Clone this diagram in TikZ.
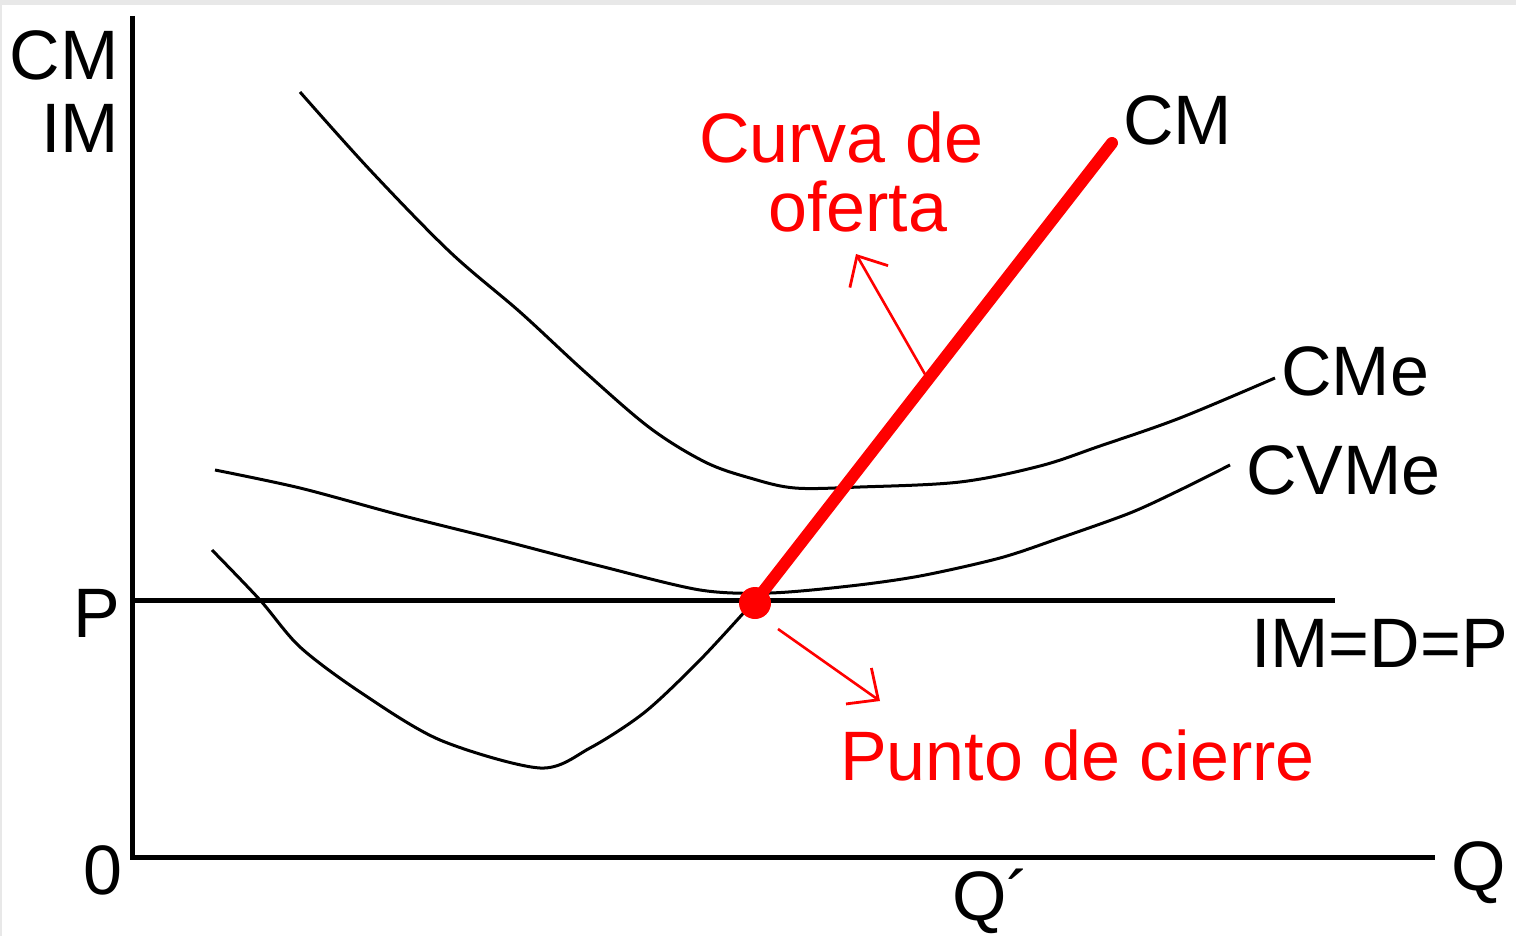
\documentclass[tikz,border=0pt]{standalone}
\usepackage{fontspec}
\setmainfont{Liberation Sans}
\usetikzlibrary{arrows.meta}
\definecolor{pred}{RGB}{255,0,0}
\definecolor{edge}{RGB}{232,232,232}
\tikzset{
  lbl/.style={inner sep=0pt,font=\fontsize{70}{70}\selectfont},
  axisline/.style={line width=5pt,black},
  curve/.style={line width=3pt,black,line join=round},
  supply/.style={line width=12pt,pred,line cap=round},
  redarrow/.style={line width=2.6pt,pred,-{Straight Barb[length=24pt,width=44pt,line width=2.8pt]}},
}
\begin{document}
\begin{tikzpicture}[x=1pt,y=-1pt]
\useasboundingbox (0,0) rectangle (1516,936);
\fill[white] (0,0) rectangle (1516,936);
\fill[edge] (0,0) rectangle (1516,5);
\fill[edge] (0,0) rectangle (2,936);
% axes
\coordinate (O) at (132,857);
\coordinate (Ytop) at (132,16);
\coordinate (Xend) at (1435,857);
\coordinate (Pl) at (132,600);
\coordinate (Pr) at (1335,600);
\draw[axisline] (Ytop) -- (O) -- (Xend);
\draw[axisline] (Pl) -- (Pr);
% labels
\node[lbl,anchor=base east] (lcm) at (119,80) {CM};
\node[lbl,anchor=base east] (lim) at (119,153) {IM};
\node[lbl,anchor=base east] (lp) at (120,637) {P};
\node[lbl,anchor=base east] (l0) at (123,894) {0};
\node[lbl,anchor=base west] (lq) at (1451,890) {Q};
\node[lbl,anchor=base west] (lqp) at (952,920) {Q´};
\node[lbl,anchor=base west] (limd) at (1251,667) {IM=D=P};
\node[lbl,anchor=base west] (lcm2) at (1123,145) {CM};
\node[lbl,anchor=base west] (lcme) at (1281,395) {CMe};
\node[lbl,anchor=base west] (lcvme) at (1246,494) {CVMe};
\node[lbl,anchor=base west,text=pred] (lcurva) at (699,163) {Curva de};
\node[lbl,anchor=base west,text=pred] (loferta) at (768,232) {oferta};
\node[lbl,anchor=base west,text=pred] (lpunto) at (840,780) {Punto de cierre};
% CMe curve
\draw[curve] plot[smooth,tension=0.55] coordinates {(300,92) (370,170) (450,252) (520,312) (585,372) (650,428) (705,462) (750,478) (795,488) (860,487) (960,482) (1040,466) (1100,446) (1180,418) (1275,378)};
% CVMe curve
\draw[curve] plot[smooth,tension=0.5] coordinates {(215,470) (300,488) (400,515) (500,540) (600,566) (700,590) (770,593) (850,586) (920,576) (1000,558) (1060,538) (1130,513) (1180,490) (1230,465)};
% CM lower black part
\draw[curve] plot[smooth,tension=0.5] coordinates {(212,550) (260,600) (300,647) (360,692) (440,740) (540,768) (590,748) (645,712) (700,660) (748,608)};
% supply curve (red CM)
\coordinate (S0) at (755,602);
\coordinate (S1) at (1112,143);
\draw[supply] (S0) -- (S1);
\node[circle,fill=pred,minimum size=32pt,inner sep=0pt] (dot) at (755,603) {};
% red arrows
\coordinate (a1s) at (926,376);
\coordinate (a1e) at (856,254);
\draw[redarrow] (a1s) -- (a1e);
\coordinate (a2s) at (778,629);
\coordinate (a2e) at (880,701);
\draw[redarrow] (a2s) -- (a2e);
\end{tikzpicture}
\end{document}
